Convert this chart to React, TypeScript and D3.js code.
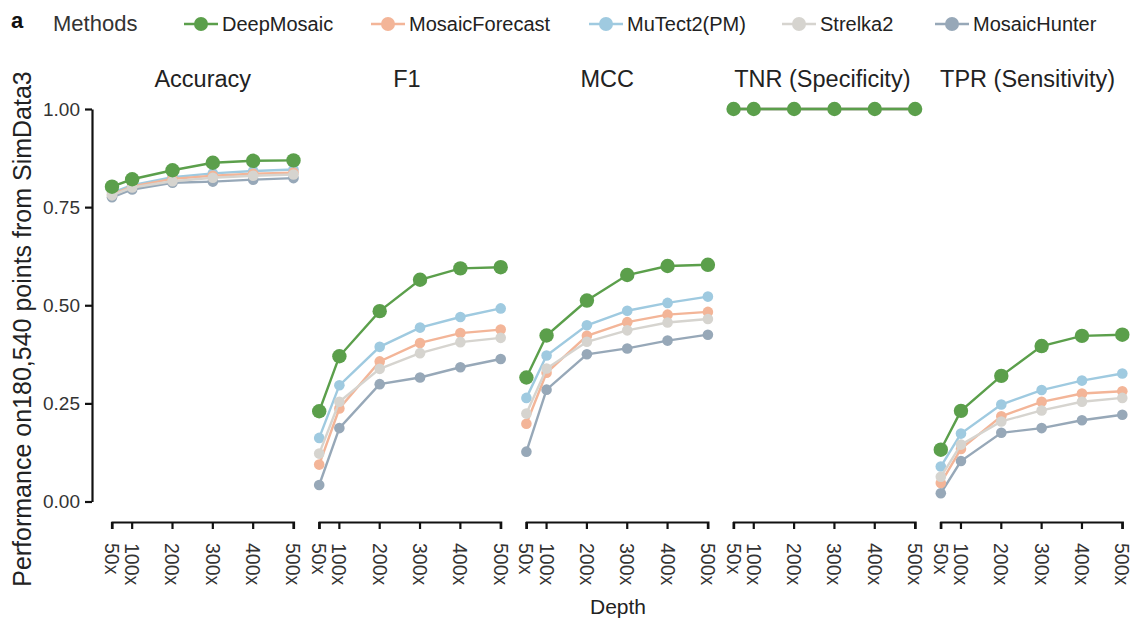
import { useEffect, useRef } from "react"
import * as d3 from "d3"

const depths = ["50x", "100x", "200x", "300x", "400x", "500x"]
const depthValues = [50, 100, 200, 300, 400, 500]

const metrics = ["Accuracy", "F1", "MCC", "TNR (Specificity)", "TPR (Sensitivity)"]
const methods = ["DeepMosaic", "MosaicForecast", "MuTect2(PM)", "Strelka2", "MosaicHunter"]
const methodColors = ["#5b9f4b", "#f3b598", "#9fcae0", "#d6d4cf", "#97a8b8"]
// draw order, back to front
const drawOrder = ["MosaicHunter", "MuTect2(PM)", "MosaicForecast", "Strelka2", "DeepMosaic"]

const yTicks = [0, 0.25, 0.5, 0.75, 1]

const deepMosaic = [
  [0.802, 0.821, 0.844, 0.863, 0.868, 0.869],
  [0.23, 0.37, 0.485, 0.565, 0.594, 0.597],
  [0.316, 0.423, 0.512, 0.577, 0.6, 0.603],
  [1, 1, 1, 1, 1, 1],
  [0.132, 0.231, 0.32, 0.396, 0.422, 0.425],
]
const mosaicForecast = [
  [0.782, 0.803, 0.822, 0.83, 0.835, 0.838],
  [0.094, 0.237, 0.357, 0.404, 0.429, 0.438],
  [0.198, 0.328, 0.422, 0.457, 0.476, 0.483],
  [1, 1, 1, 1, 1, 1],
  [0.047, 0.134, 0.217, 0.254, 0.275, 0.281],
]
const muTect2 = [
  [0.787, 0.806, 0.826, 0.836, 0.842, 0.846],
  [0.162, 0.296, 0.394, 0.443, 0.47, 0.492],
  [0.264, 0.372, 0.449, 0.486, 0.506, 0.522],
  [1, 1, 1, 1, 1, 1],
  [0.089, 0.173, 0.247, 0.284, 0.308, 0.326],
]
const strelka2 = [
  [0.78, 0.8, 0.816, 0.825, 0.83, 0.833],
  [0.122, 0.254, 0.338, 0.378, 0.406, 0.417],
  [0.224, 0.339, 0.407, 0.436, 0.456, 0.465],
  [1, 1, 1, 1, 1, 1],
  [0.063, 0.145, 0.204, 0.232, 0.254, 0.264],
]
const mosaicHunter = [
  [0.775, 0.795, 0.812, 0.815, 0.82, 0.824],
  [0.042, 0.187, 0.299, 0.316, 0.342, 0.363],
  [0.127, 0.285, 0.375, 0.39, 0.41, 0.425],
  [1, 1, 1, 1, 1, 1],
  [0.021, 0.103, 0.175, 0.187, 0.207, 0.221],
]

const seriesByMethod: Record<string, number[][]> = {
  DeepMosaic: deepMosaic,
  MosaicForecast: mosaicForecast,
  "MuTect2(PM)": muTect2,
  Strelka2: strelka2,
  MosaicHunter: mosaicHunter,
}

const FONT = "'Liberation Sans', Arial, Helvetica, sans-serif"

export default function App() {
  const svgRef = useRef<SVGSVGElement>(null)

  useEffect(() => {
    if (!svgRef.current) return
    const svg = d3.select(svgRef.current)
    svg.selectAll("*").remove()

    const width = 1136
    const height = 621
    svg.attr("width", width).attr("height", height).style("font-family", FONT)

    const panelLeft = 112
    const panelStep = 207.2
    const panelWidth = 181.5
    const axisY = 522
    // small nudges so the strip titles sit where the original ones do
    const titleShift = [0, -3, -10, -2, -4]

    const y = d3.scaleLinear().domain([0, 1]).range([501.5, 109])
    const color = d3.scaleOrdinal<string, string>().domain(methods).range(methodColors)

    // y axis
    const yAxis = svg
      .append("g")
      .attr("transform", "translate(92,0)")
      .call(
        d3
          .axisLeft(y)
          .tickValues(yTicks)
          .tickFormat((d) => d3.format(".2f")(d as number))
          .tickSize(7)
          .tickSizeOuter(0)
          .tickPadding(5),
      )
    yAxis.select(".domain").attr("stroke", "#111").attr("stroke-width", 2.2)
    yAxis.selectAll(".tick line").attr("stroke", "#111").attr("stroke-width", 2.2)
    yAxis
      .selectAll("text")
      .style("font-size", "19px")
      .style("font-family", FONT)
      .attr("fill", "#333")

    svg
      .append("text")
      .attr("transform", "translate(31,329) rotate(-90)")
      .attr("text-anchor", "middle")
      .style("font-size", "25px")
      .attr("fill", "#222")
      .text("Performance on180,540 points from SimData3")

    metrics.forEach((metric, mi) => {
      const x0 = panelLeft + panelStep * mi
      const x = d3.scaleLinear().domain([50, 500]).range([x0, x0 + panelWidth])
      const xTick = d3
        .scalePoint<string>()
        .domain(depths)
        .range([x0, x0 + panelWidth])
      // position each depth label by its numeric depth
      const tickPos = (d: string) => x(depthValues[depths.indexOf(d)])

      svg
        .append("text")
        .attr("x", x0 + panelWidth / 2 + titleShift[mi])
        .attr("y", 87)
        .attr("text-anchor", "middle")
        .style("font-size", "23.5px")
        .attr("fill", "#222")
        .text(metric)

      const xAxisG = svg
        .append("g")
        .attr("transform", `translate(0,${axisY})`)
        .call(
          d3
            .axisBottom(xTick)
            .tickSize(7)
            .tickSizeOuter(7)
            .tickPadding(0),
        )
      xAxisG.selectAll<SVGGElement, string>(".tick").attr("transform", (d) => `translate(${tickPos(d)},0)`)
      xAxisG.select(".domain").attr("stroke", "#111").attr("stroke-width", 2.2)
      xAxisG.selectAll(".tick line").attr("stroke", "#111").attr("stroke-width", 2.2)
      xAxisG
        .selectAll("text")
        .attr("transform", "rotate(90)")
        .attr("x", 21)
        .attr("y", 0)
        .attr("dy", "0.36em")
        .attr("text-anchor", "start")
        .style("font-size", "19.5px")
        .style("font-family", FONT)
        .attr("fill", "#333")

      const line = d3
        .line<number>()
        .x((_, i) => x(depthValues[i]))
        .y((d) => y(d))

      drawOrder.forEach((method) => {
        const values = seriesByMethod[method][mi]
        const isDeep = method === "DeepMosaic"
        const g = svg.append("g")
        g.append("path")
          .datum(values)
          .attr("fill", "none")
          .attr("stroke", color(method))
          .attr("stroke-width", 2.4)
          .attr("d", line)
        g.selectAll("circle")
          .data(values)
          .enter()
          .append("circle")
          .attr("cx", (_, i) => x(depthValues[i]))
          .attr("cy", (d) => y(d))
          .attr("r", isDeep ? 7.2 : 5.3)
          .attr("fill", color(method))
      })
    })

    svg
      .append("text")
      .attr("x", 618)
      .attr("y", 614)
      .attr("text-anchor", "middle")
      .style("font-size", "21px")
      .attr("fill", "#222")
      .text("Depth")

    // header + legend
    svg
      .append("text")
      .attr("x", 11)
      .attr("y", 28)
      .style("font-size", "22px")
      .style("font-weight", "bold")
      .attr("fill", "#111")
      .text("a")

    svg
      .append("text")
      .attr("x", 53)
      .attr("y", 31)
      .style("font-size", "22px")
      .attr("fill", "#333")
      .text("Methods")

    const legendX = [184, 371, 589, 782, 935]
    const legendY = 24
    const legendItem = svg
      .selectAll(".legend-item")
      .data(methods)
      .enter()
      .append("g")
      .attr("class", "legend-item")
      .attr("transform", (_, i) => `translate(${legendX[i]},${legendY})`)

    legendItem
      .append("line")
      .attr("x1", 0)
      .attr("x2", 34)
      .attr("stroke", (d) => color(d))
      .attr("stroke-width", 2.4)

    legendItem
      .append("circle")
      .attr("cx", 17)
      .attr("r", 7)
      .attr("fill", (d) => color(d))

    legendItem
      .append("text")
      .attr("x", 38)
      .attr("y", 7)
      .style("font-size", "20px")
      .attr("fill", "#222")
      .text((d) => d)
  }, [])

  return (
    <div style={{ position: "absolute", left: 0, top: 0 }}>
      <svg ref={svgRef} style={{ display: "block" }}></svg>
    </div>
  )
}
